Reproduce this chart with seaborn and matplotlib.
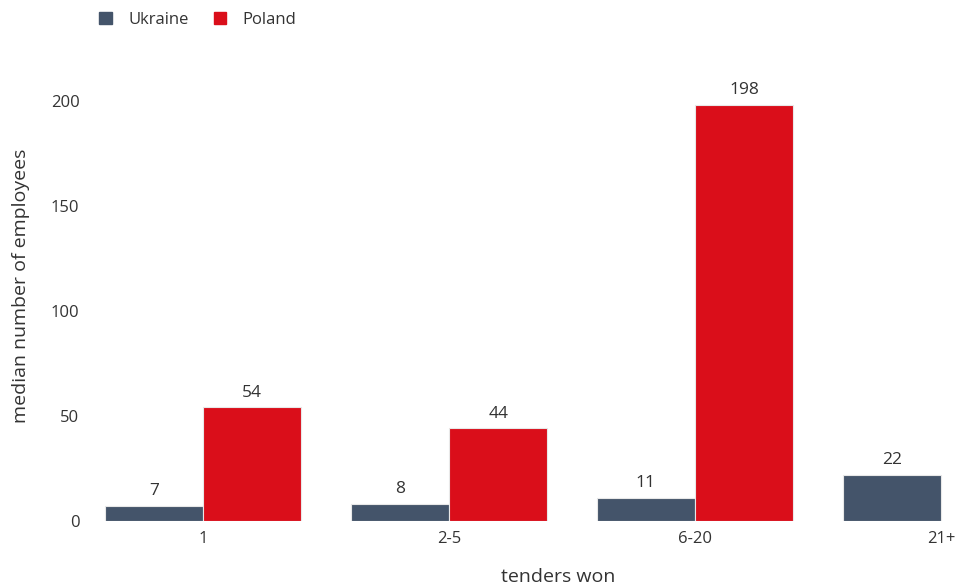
import matplotlib
matplotlib.use("Agg")
import matplotlib.pyplot as plt
import seaborn as sns
import pandas as pd
import numpy as np

categories = ["1", "2-5", "6-20", "21+"]
ukraine = [7, 8, 11, 22]
poland = [54, 44, 198, np.nan]
series = ["Ukraine", "Poland"]
colors = {"Ukraine": "#44546A", "Poland": "#DA0E1A"}

df = pd.DataFrame({
    "tenders": categories * 2,
    "country": ["Ukraine"] * 4 + ["Poland"] * 4,
    "employees": ukraine + poland,
})

sns.set_theme(style="white")
plt.rcParams["font.family"] = ["Open Sans", "DejaVu Sans"]

W, H = 955, 585
fig = plt.figure(figsize=(W / 100, H / 100), dpi=100)
left_px, right_px, bottom_px, top_px = 85, 955, 521, 69
ax = fig.add_axes([left_px / W, 1 - bottom_px / H,
                   (right_px - left_px) / W, (bottom_px - top_px) / H])

sns.barplot(data=df.dropna(), x="tenders", y="employees", hue="country",
            order=categories, hue_order=series, palette=colors,
            saturation=1, width=0.8, edgecolor="#E8E8E8", linewidth=0.8,
            ax=ax, legend=False)

for cont in ax.containers:
    ax.bar_label(cont, fmt="%d", padding=5, fontsize=12.5, color="#333333")

ax.set_xlim(-0.48, 3.057)
ax.set_ylim(0, 215)
ax.set_yticks([0, 50, 100, 150, 200])
sns.despine(ax=ax, left=True, bottom=True)
ax.tick_params(axis="both", length=0, labelsize=12, colors="#333333")
ax.tick_params(axis="y", pad=4)
ax.tick_params(axis="x", pad=7)
ax.grid(False)

ax.set_xlabel("tenders won", fontsize=14, color="#333333")
ax.set_ylabel("median number of employees", fontsize=14, color="#333333")
ax.xaxis.set_label_coords(0.544, -0.105)
ax.yaxis.set_label_coords(-0.063, 0.52)

handles = [plt.Rectangle((0, 0), 1, 1, color=colors[s]) for s in series]
fig.legend(handles, series, loc="upper left", bbox_to_anchor=(0.088, 1.005),
           ncol=2, frameon=False, fontsize=12, handlelength=0.75,
           handleheight=0.75, handletextpad=1.0, columnspacing=1.5,
           labelcolor="#333333")

fig.savefig("out.png", dpi=100, facecolor="white")
